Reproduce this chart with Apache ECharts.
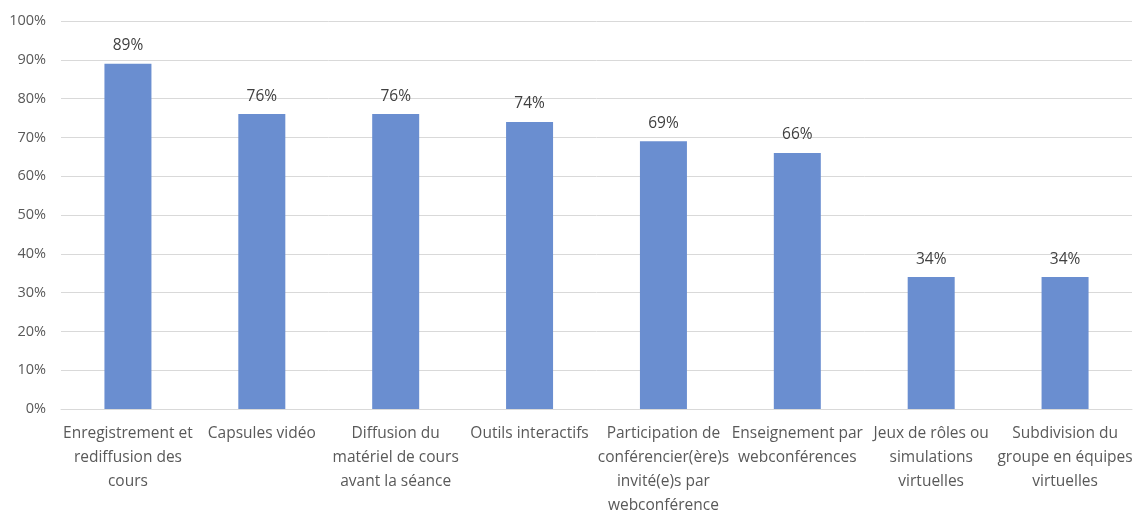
<!DOCTYPE html>
<html>
<head>
<meta charset="utf-8">
<script src="https://cdn.jsdelivr.net/npm/echarts@6/dist/echarts.min.js"></script>
<style>
  html, body { margin: 0; padding: 0; background: #fff; }
  #chart { width: 1134px; height: 511px; }
</style>
</head>
<body>
<div id="chart"></div>
<script>
const categories = [
	"Enregistrement et\nrediffusion des\ncours",
	"Capsules vidéo",
	"Diffusion du\nmatériel de cours\navant la séance",
	"Outils interactifs",
	"Participation de\nconférencier(ère)s\ninvité(e)s par\nwebconférence",
	"Enseignement par\nwebconférences",
	"Jeux de rôles ou\nsimulations\nvirtuelles",
	"Subdivision du\ngroupe en équipes\nvirtuelles",
];
const values = [89, 76, 76, 74, 69, 66, 34, 34];

const font = "'Open Sans', 'Liberation Sans', sans-serif";
const chart = echarts.init(document.getElementById("chart"));

chart.setOption({
	animation: false,
	grid: {
		left: 61,
		right: 2,
		top: 21,
		bottom: 102,
		containLabel: false,
		outerBoundsMode: "none",
	},
	xAxis: {
		type: "category",
		data: categories,
		axisLine: { lineStyle: { color: "#d9d9d9" } },
		axisTick: { show: false },
		axisLabel: {
			interval: 0,
			color: "#595959",
			fontFamily: font,
			fontSize: 15.5,
			lineHeight: 24,
			margin: 13,
		},
	},
	yAxis: {
		type: "value",
		min: 0,
		max: 100,
		interval: 10,
		axisLine: { show: false },
		axisTick: { show: false },
		splitLine: { lineStyle: { color: "#d9d9d9" } },
		axisLabel: {
			formatter: "{value}%",
			color: "#595959",
			fontFamily: font,
			fontSize: 14.5,
			margin: 15,
		},
	},
	series: [
		{
			type: "bar",
			data: values,
			barWidth: 47,
			itemStyle: { color: "#6a8ed0" },
			label: {
				show: true,
				position: "top",
				distance: 10,
				formatter: "{c}%",
				color: "#404040",
				fontFamily: font,
				fontSize: 15.5,
			},
		},
	],
});
</script>
</body>
</html>
